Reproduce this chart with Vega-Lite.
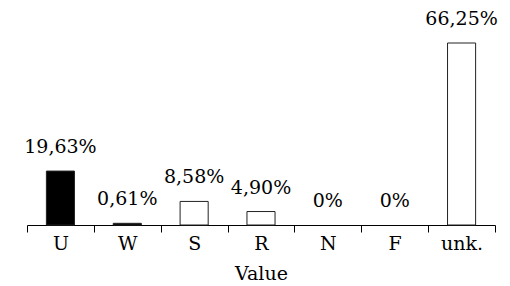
{
  "$schema": "https://vega.github.io/schema/vega-lite/v6.json",
  "width": 468,
  "height": 182,
  "autosize": "none",
  "padding": {"left": 27, "top": 43, "right": 15, "bottom": 61},
  "background": "white",
  "config": {
    "view": {"stroke": null},
    "font": "DejaVu Serif"
  },
  "data": {
    "values": [
      {"Value": "U", "pct": 19.63, "label": "19,63%"},
      {"Value": "W", "pct": 0.61, "label": "0,61%"},
      {"Value": "S", "pct": 8.58, "label": "8,58%"},
      {"Value": "R", "pct": 4.90, "label": "4,90%"},
      {"Value": "N", "pct": 0, "label": "0%"},
      {"Value": "F", "pct": 0, "label": "0%"},
      {"Value": "unk.", "pct": 66.25, "label": "66,25%"}
    ]
  },
  "encoding": {
    "x": {
      "field": "Value",
      "type": "nominal",
      "sort": ["U", "W", "S", "R", "N", "F", "unk."],
      "scale": {"paddingInner": 0, "paddingOuter": 0},
      "axis": {
        "labelAngle": 0,
        "labelFont": "DejaVu Serif",
        "labelFontSize": 19,
        "labelColor": "black",
        "labelPadding": 2,
        "titleFont": "DejaVu Serif",
        "titleFontSize": 19,
        "titleFontWeight": "normal",
        "titleColor": "black",
        "titlePadding": 11,
        "tickBand": "extent",
        "tickSize": 7,
        "tickColor": "black",
        "domainColor": "black",
        "grid": false
      }
    },
    "y": {
      "field": "pct",
      "type": "quantitative",
      "scale": {"domain": [0, 66.25], "nice": false},
      "axis": null
    }
  },
  "layer": [
    {
      "transform": [{"filter": "datum.pct > 0"}],
      "mark": {"type": "bar", "stroke": "#222", "strokeWidth": 1, "width": {"band": 0.42}},
      "encoding": {
        "fill": {
          "field": "Value",
          "type": "nominal",
          "scale": {
            "domain": ["U", "W", "S", "R", "N", "F", "unk."],
            "range": ["black", "black", "white", "white", "white", "white", "white"]
          },
          "legend": null
        }
      }
    },
    {
      "mark": {"type": "text", "baseline": "alphabetic", "dy": -18, "fontSize": 19, "color": "black", "font": "DejaVu Serif"},
      "encoding": {"text": {"field": "label"}}
    }
  ]
}
